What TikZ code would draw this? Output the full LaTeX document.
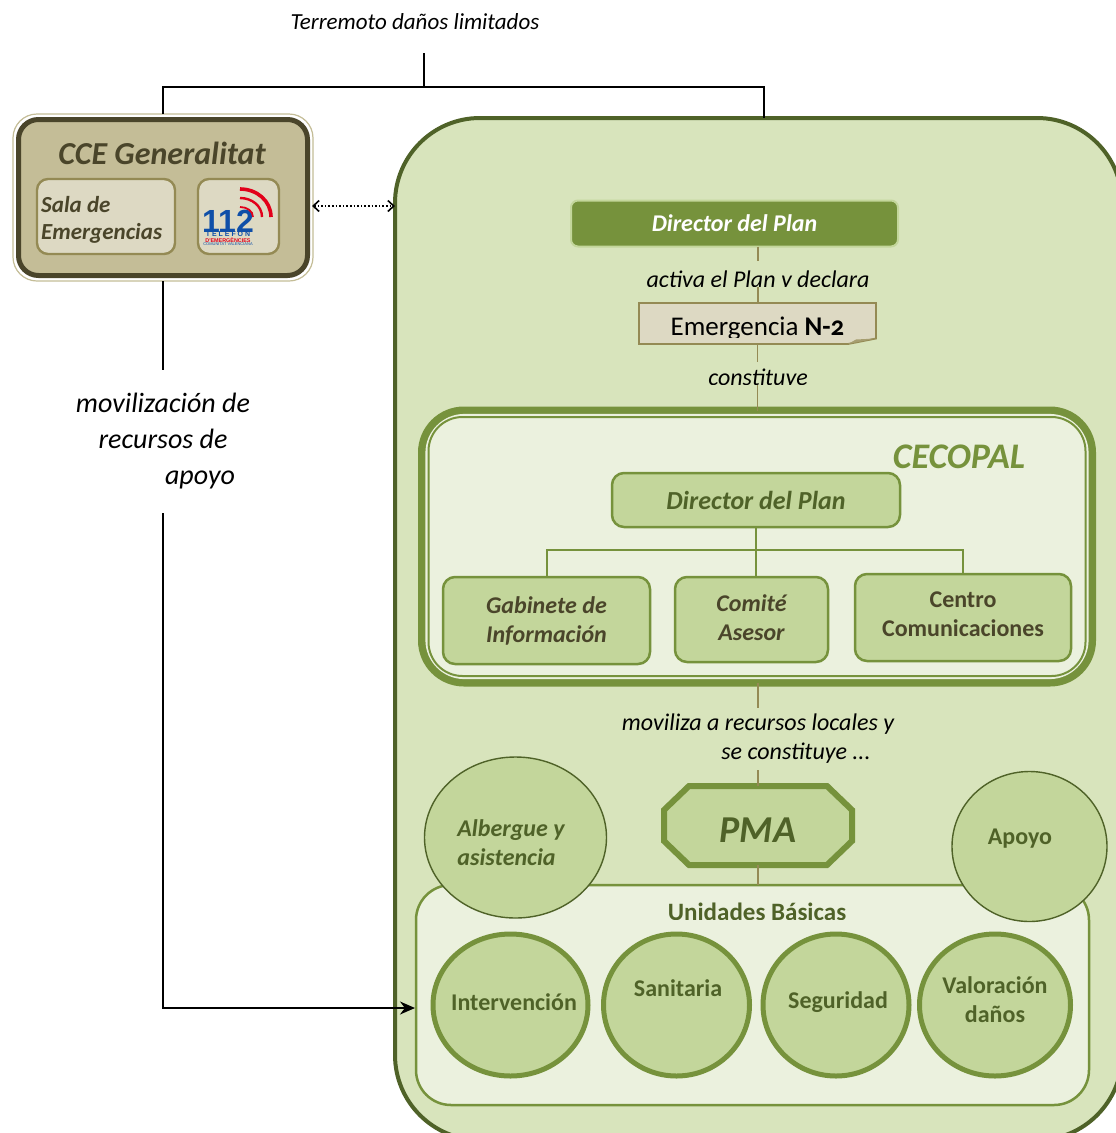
\documentclass[tikz,border=0pt]{standalone}
\usepackage{fontspec}
\setmainfont{Carlito}
\newfontfamily\logofont{Liberation Sans}
\usetikzlibrary{arrows.meta,shapes.geometric,positioning}
\definecolor{panelfill}{HTML}{D8E4BC}
\definecolor{palefill}{HTML}{EBF1DE}
\definecolor{midfill}{HTML}{C3D69B}
\definecolor{olive}{HTML}{76923C}
\definecolor{darkolive}{HTML}{4F6228}
\definecolor{sand}{HTML}{DDD9C3}
\definecolor{khaki}{HTML}{948A54}
\definecolor{tan}{HTML}{C4BD97}
\definecolor{umber}{HTML}{4A452A}
\definecolor{logoblue}{HTML}{0F4FA8}
\definecolor{logored}{HTML}{E2001A}
\tikzset{
  x=1pt,y=-1pt,
  box/.style={rectangle,outer sep=0pt,inner sep=0pt,align=center},
  blackline/.style={draw=black,line width=1.6pt},
  brownline/.style={draw=khaki,line width=1.8pt},
  greenline/.style={draw=olive,line width=2pt},
  label it/.style={font=\fontsize{#1}{\dimexpr#1pt*6/5\relax}\selectfont\itshape,text=black,inner sep=0pt,align=center},
  boldit/.style={font=\fontsize{#1}{\dimexpr#1pt*6/5\relax}\selectfont\bfseries\itshape,inner sep=0pt,align=center},
  boldup/.style={font=\fontsize{#1}{\dimexpr#1pt*6/5\relax}\selectfont\bfseries,inner sep=0pt,align=center},
  mask/.style={rectangle,fill=panelfill,inner sep=0pt,outer sep=0pt},
  sub box/.style={box,draw=olive,fill=midfill,line width=2.5pt,rounded corners=12pt},
  unit/.style={ellipse,draw=olive,fill=midfill,line width=5pt,inner sep=0pt,outer sep=0pt,minimum width=#1,minimum height=142pt},
  extra/.style={ellipse,draw=darkolive,fill=midfill,line width=1.4pt,inner sep=0pt,outer sep=0pt},
  sandbox/.style={box,draw=khaki,fill=sand,line width=2.4pt,rounded corners=11pt},
}
\begin{document}
\begin{tikzpicture}
\useasboundingbox (0,0) rectangle (1116,1133);
\clip (0,0) rectangle (1116,1133);
\fill[white] (0,0) rectangle (1116,1133);

% outer panel
\node[box,draw=darkolive,fill=panelfill,line width=4pt,rounded corners=85pt,minimum width=727pt,minimum height=1022pt] (panel) at (758.5,629) {};
\coordinate (paneltop) at (764,118);
\coordinate (panelleft) at (395,206);

% top label and tree
\node[label it=23] (terremoto) at (415,22) {Terremoto daños limitados};
\coordinate (treeroot) at (424,53);
\coordinate (treejoin) at (424,87);

% CCE
\node[box,draw=tan,fill=white,line width=1.2pt,rounded corners=24pt,minimum width=300pt,minimum height=167pt] (cceouter) at (163,197.5) {};
\node[box,draw=umber,fill=tan,line width=5pt,rounded corners=20pt,minimum width=289pt,minimum height=156pt] (cce) at (163,197.5) {};
\node[boldit=32,text=umber] (ccetitle) at (162,153) {CCE Generalitat};
\node[sandbox,minimum width=138pt,minimum height=75pt] (sala) at (106,216.5) {};
\begin{scope}
  \clip (38,181) rectangle (174,244);
  \node[boldit=23,text=umber,anchor=north west,align=left] (salatext) at (41,196) {Sala de\\Emergencias};
\end{scope}
\node[sandbox,minimum width=81pt,minimum height=75pt] (logobox) at (238.5,216.5) {};
\node[font=\logofont\bfseries\fontsize{32}{32}\selectfont,text=logoblue,inner sep=0pt] (logonum) at (228,221) {112};
\node[font=\logofont\bfseries\fontsize{7}{7}\selectfont,text=logoblue,inner sep=0pt] (logoa) at (228,234.5) {T E L E F O N};
\node[font=\logofont\bfseries\fontsize{5.4}{5.4}\selectfont,text=logored,inner sep=0pt] (logob) at (228,240) {D'EMERGÈNCIES};
\node[font=\logofont\fontsize{4}{4}\selectfont,text=logoblue,inner sep=0pt] (logoc) at (228,244.5) {COMUNITAT VALENCIANA};
\draw[logored,line width=3.6pt] (240,189) .. controls (257,189) and (271,201) .. (271,217);
\draw[logored,line width=2.4pt] (240,198) .. controls (252,198) and (262,206) .. (262,217);
\draw[logored,line width=1.8pt] (240,207) .. controls (247,207) and (253,211) .. (253,217);

% top tree connectors
\draw[blackline] (treeroot) -- (treejoin);
\draw[blackline] (cceouter.north) |- (treejoin) -| (paneltop);

% CCE <-> panel
\coordinate (cceright) at (312,206);
\draw[draw=black,line width=1.6pt,dotted,{Straight Barb[length=6pt,width=11pt]}-{Straight Barb[length=6pt,width=11pt]}] (cceright) -- (panelleft);

% Director
\node[box,draw=midfill,fill=olive,line width=2pt,rounded corners=7pt,minimum width=327pt,minimum height=46pt,text=white,font=\fontsize{24}{28}\selectfont\bfseries\itshape] (director) at (734.5,223.5) {Director del Plan};

% Emergencia note
\node[box,minimum width=237pt,minimum height=41pt] (note) at (757.5,323.5) {};
\draw[draw=khaki,fill=sand,line width=1.8pt] (note.north west) -- (note.north east) -- (876,338.5) -- (848,344) -- (note.south west) -- cycle;
\fill[khaki!75!sand] (848,344) -- (856,339.5) -- (876,338.5) -- cycle;
\begin{scope}
  \clip (642,305) rectangle (874,337);
  \node[inner sep=0pt,font=\fontsize{27}{30}\selectfont] (notetext) at (757.5,329) {Emergencia \textbf{N-{\addfontfeatures{Numbers=OldStyle}2}}};
\end{scope}

% CECOPAL
\node[box,draw=olive,fill=palefill,line width=8pt,rounded corners=42pt,minimum width=670pt,minimum height=272pt] (cecopal) at (757,546.5) {};
\node[box,draw=palefill,line width=2.2pt,rounded corners=38pt,minimum width=661pt,minimum height=263pt] (cecopalgap) at (757,546.5) {};
\node[box,draw=olive,line width=2pt,rounded corners=34pt,minimum width=657pt,minimum height=259pt] (cecopalinner) at (757,546.5) {};
\node[boldit=36,text=olive] (cecopaltitle) at (959,457) {CECOPAL};

% inner org chart
\node[sub box,minimum width=288pt,minimum height=54pt,text=darkolive,font=\fontsize{26}{30}\selectfont\bfseries\itshape] (dir2) at (756,500) {Director del Plan};
\node[sub box,minimum width=207pt,minimum height=87pt,text=umber,font=\fontsize{24}{29}\selectfont\bfseries\itshape] (gab) at (546.5,620.5) {Gabinete de\\Información};
\node[sub box,minimum width=153pt,minimum height=85pt,text=umber,font=\fontsize{24}{29}\selectfont\bfseries\itshape] (comite) at (751.5,619.5) {};
\node[boldit=24,text=umber] (comitetext) at (751.5,618) {Comité\\Asesor};
\node[sub box,minimum width=216pt,minimum height=87pt,text=umber,font=\fontsize{24}{29}\selectfont\bfseries] (centro) at (963,617.5) {};
\node[boldup=24,text=umber] (centrotext) at (963,614) {Centro\\Comunicaciones};
\coordinate (orgjoin) at (756,550);
\coordinate (comitetop) at (756,577);
\draw[greenline] (dir2.south) -- (comitetop);
\draw[greenline] (gab.north) |- (orgjoin) -| (centro.north);

% PMA
\node[box,minimum width=187pt,minimum height=79pt] (pma) at (758,825.5) {};
\draw[draw=olive,fill=midfill,line width=6pt,line join=miter] (689,786) -- (827,786) -- (852,810) -- (852,841) -- (827,865) -- (689,865) -- (664,841) -- (664,810) -- cycle;
\node[boldit=38,text=darkolive] (pmatext) at (758,830) {PMA};

% Unidades Basicas
\node[box,draw=olive,fill=palefill,line width=2.5pt,rounded corners=35pt,minimum width=673pt,minimum height=220pt] (ub) at (752.5,995) {};
\begin{scope}
  \clip (600,890) rectangle (900,919);
  \node[boldup=25,text=darkolive] (ubtext) at (757,912) {Unidades Básicas};
\end{scope}
\node[extra,minimum width=182pt,minimum height=161pt] (albergue) at (515.5,837.5) {};
\node[boldit=24,text=darkolive,align=left] (alberguetext) at (511,843) {Albergue y\\asistencia};
\node[extra,minimum width=155pt,minimum height=150pt] (apoyo) at (1029.5,846.5) {};
\node[boldup=24,text=darkolive] (apoyotext) at (1020,839) {Apoyo};
\node[unit=155pt] (interv) at (510.5,1005) {};
\node[boldup=24,text=darkolive] (intervtext) at (514,1002) {Intervención};
\node[unit=146pt] (sanit) at (676.5,1005) {};
\node[boldup=24,text=darkolive] (sanittext) at (678,988) {Sanitaria};
\node[unit=146pt] (segur) at (836,1005) {};
\node[boldup=24,text=darkolive] (segurtext) at (838,1002) {Seguridad};
\node[unit=151pt] (valor) at (995,1005) {};
\node[boldup=24,text=darkolive] (valortext) at (995,999.5) {Valoración\\daños};

% brown connectors with their cut labels
\draw[brownline] (director.south) ++(23.5,0) coordinate (dirfoot) -- (dirfoot |- note.north);
\draw[brownline] (note.south) -- (note.south |- cecopal.north);
\draw[brownline] (cecopal.south -| pma.north) -- (pma.north);
\draw[brownline] (pma.south) -- (pma.south |- ub.north);

\node[mask,minimum width=230pt,minimum height=26pt] (gapa) at (758,274) {};
\begin{scope}
  \clip (640,262) rectangle (880,286);
  \node[label it=24] (activa) at (758,281) {activa el Plan y declara};
\end{scope}
\node[mask,minimum width=120pt,minimum height=23pt] (gapb) at (758,373.5) {};
\begin{scope}
  \clip (690,362) rectangle (830,384);
  \node[label it=24] (constituye) at (758,379) {constituye};
\end{scope}
\node[mask,minimum width=290pt,minimum height=62pt] (gapc) at (758,739) {};
\begin{scope}
  \clip (610,708) rectangle (905,766);
  \node[label it=24,anchor=north] (moviliza) at (758,714) {moviliza a recursos locales y\\\hspace*{76pt}se constituye ...};
\end{scope}

% left mobilisation path
\node[fill=white,inner sep=0pt,outer sep=0pt,minimum height=143pt,font=\fontsize{28}{36}\selectfont\itshape,align=center,text=black] (movil) at (163,441.5) {movilización de\\recursos de\\\hspace*{74pt}apoyo};
\coordinate (ubentry) at (415,1008);
\draw[blackline] (cceouter.south) -- (movil.north);
\draw[blackline,-{Stealth[length=15pt,width=13pt]}] (movil.south) |- (ubentry);
\end{tikzpicture}
\end{document}
